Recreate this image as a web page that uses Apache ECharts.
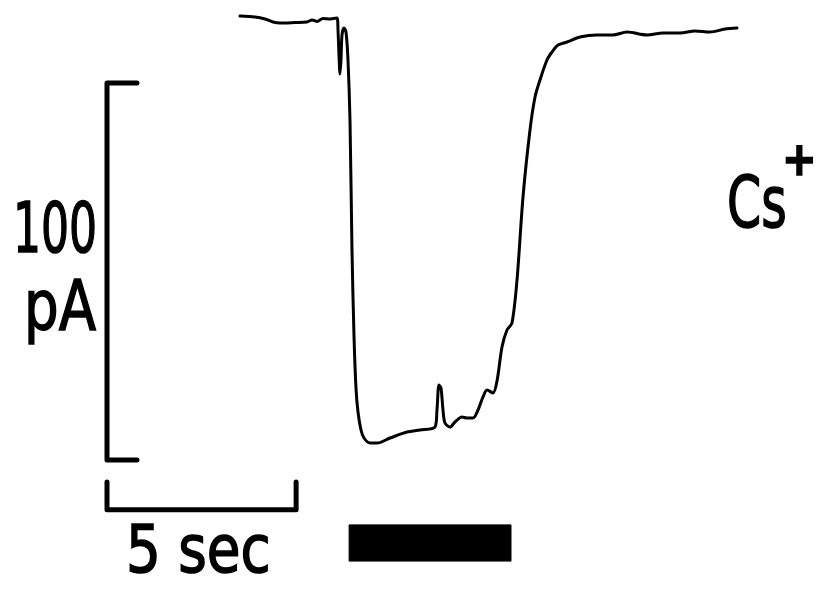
<!DOCTYPE html>
<html>
<head>
<meta charset="utf-8">
<script src="https://cdn.jsdelivr.net/npm/echarts@6/dist/echarts.min.js"></script>
<style>
html,body{margin:0;padding:0;background:#fff;}
#chart{width:817px;height:592px;}
</style>
</head>
<body>
<div id="chart"></div>
<script>
// Current trace: time (s), current (pA)
var traceTime = [6.345, 6.742, 7.006, 7.218, 7.403, 7.799, 8.116, 8.249, 8.381, 8.539, 8.725, 8.910,
  8.936, 8.962, 8.989, 9.015, 9.042, 9.095, 9.148, 9.200, 9.253, 9.306, 9.359, 9.412, 9.465, 9.544,
  9.623, 9.782, 9.967, 10.311, 10.760, 11.104, 11.501, 11.553, 11.606, 11.659, 11.712, 11.765, 11.897,
  12.029, 12.215, 12.347, 12.505, 12.638, 12.770, 12.876, 13.034, 13.140, 13.272, 13.404, 13.536,
  13.669, 13.827, 14.012, 14.145, 14.276, 14.461, 14.594, 14.752, 14.990, 15.334, 15.783, 16.206,
  16.577, 17.105, 17.528, 17.978, 18.375, 18.771, 19.168, 19.484];
var traceCurrent = [0.76, 0.49, -0.04, -0.83, -1.10, -0.97, -0.83, -0.30, -0.70, 0.09, -0.04, 0.23,
  -2.96, -9.59, -14.62, -10.91, -4.28, -2.43, -3.49, -10.91, -26.8, -61.3, -84.0, -98.0, -104.26, -109.04,
  -111.16, -112.49, -112.49, -111.16, -109.57, -109.04, -108.24, -103.73, -97.10, -97.90, -103.73, -107.18, -108.24,
  -106.92, -105.59, -105.85, -105.85, -103.73, -100.28, -98.43, -99.22, -96.04, -87.03, -82.52, -80.66,
  -69.26, -47.25, -29.48, -20.72, -16.22, -10.91, -8.79, -6.93, -6.14, -4.81, -4.28, -4.28,
  -3.49, -4.28, -3.75, -3.75, -3.22, -3.49, -2.69, -2.43];

// Scale bars: 100 pA and 5 sec
var vBarTime = [3.622, 2.829, 2.829, 3.622];
var vBarCurrent = [-17, -17, -117, -117];
var hBarTime = [2.829, 2.829, 7.829, 7.829];
var hBarCurrent = [-122.8, -130.2, -130.2, -122.8];

// Cs+ application period
var stimStart = 9.23, stimEnd = 13.51;
var stimTop = -134.2, stimBottom = -143.8;

var labels = {amp: '100', unit: 'pA', time: '5 sec', ion: 'Cs', charge: '+'};

function zip(a, b){ var r=[]; for (var i=0;i<a.length;i++) r.push([a[i], b[i]]); return r; }

var chart = echarts.init(document.getElementById('chart'));
var font = '"DejaVu Sans", sans-serif';
function txt(x, y, sx, size, s, weight){
  return {type: 'text', x: x, y: y, scaleX: sx,
    style: {text: s, font: (weight || 'normal') + ' ' + size + 'px ' + font, fill: '#000',
      stroke: '#000', lineWidth: 1.6, textAlign: 'left', textVerticalAlign: 'middle'}};
}
chart.setOption({
  animation: false,
  backgroundColor: '#fff',
  grid: {left: 0, right: 0, top: 0, bottom: 0},
  xAxis: {type: 'value', min: 0, max: 21.6, show: false},
  yAxis: {type: 'value', min: -152, max: 5, show: false},
  series: [
    {type: 'line', data: zip(traceTime, traceCurrent), symbol: 'none', smooth: 0.3,
     lineStyle: {color: '#000', width: 3, cap: 'round', join: 'round'}},
    {type: 'line', data: zip(vBarTime, vBarCurrent), symbol: 'none',
     lineStyle: {color: '#000', width: 5, cap: 'round', join: 'round'}},
    {type: 'line', data: zip(hBarTime, hBarCurrent), symbol: 'none',
     lineStyle: {color: '#000', width: 5, cap: 'round', join: 'round'}},
    {type: 'line', data: [], symbol: 'none',
     markArea: {silent: true, itemStyle: {color: '#000', borderColor: '#000', borderWidth: 1},
       data: [[{coord: [stimStart, stimTop]}, {coord: [stimEnd, stimBottom]}]]}}
  ],
  graphic: [
    txt(13, 234, 0.63, 70, labels.amp),
    txt(24, 312, 0.78, 70, labels.unit),
    txt(126, 555, 0.83, 66, labels.time),
    txt(727, 209, 0.69, 71, labels.ion),
    txt(782, 163, 0.9, 46, labels.charge, 'bold')
  ]
});
</script>
</body>
</html>
